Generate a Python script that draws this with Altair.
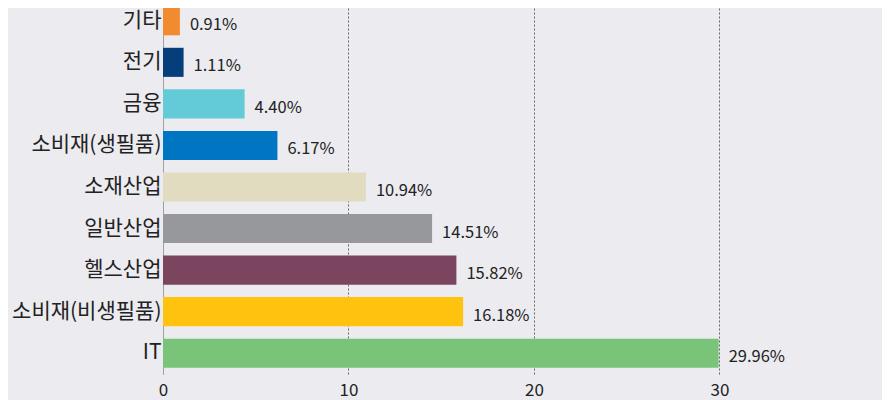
import altair as alt
import pandas as pd

categories = ["기타", "전기", "금융", "소비재(생필품)", "소재산업", "일반산업", "헬스산업", "소비재(비생필품)", "IT"]
values = [0.91, 1.11, 4.40, 6.17, 10.94, 14.51, 15.82, 16.18, 29.96]
colors = ["#F28A30", "#063E7B", "#63CBD8", "#0075C2", "#E1DCBF", "#97989C", "#7B445F", "#FFC20E", "#79C478"]
labels = [f"{v:.2f}%" for v in values]

df = pd.DataFrame({"cat": categories, "val": values, "label": labels, "color": colors})

FONT = "Noto Sans CJK KR"
BG = "#EBEBF0"

y = alt.Y("cat:N", sort=categories, title=None,
          scale=alt.Scale(paddingInner=0.3, paddingOuter=0.15),
          axis=alt.Axis(labelFont=FONT, labelFontSize=21, labelColor="#222222",
                        domainColor="#A0A0A0", ticks=False, labelPadding=2, labelLimit=300))
x = alt.X("val:Q", title=None,
          scale=alt.Scale(domain=[0, 39.2], nice=False, zero=True),
          axis=alt.Axis(values=[0, 10, 20, 30], labelFont=FONT, labelFontSize=17,
                        labelColor="#222222", domain=False, ticks=False, labelPadding=8,
                        grid=True, gridDash=[2, 2], gridColor="#666666", gridWidth=1,
                        labelFlush=False))

bars = alt.Chart(df).mark_bar().encode(
    x=x, y=y,
    color=alt.Color("color:N", scale=None, legend=None),
)

text = alt.Chart(df).mark_text(align="left", baseline="middle", dx=10, dy=4,
                               font=FONT, fontSize=16.5, color="#222222").encode(
    x="val:Q", y=alt.Y("cat:N", sort=categories), text="label:N"
)

chart = (bars + text).properties(
    width=727, height=374,
    background=BG,
    padding={"left": 155, "top": -8, "right": -8, "bottom": 30},
    autosize=alt.AutoSizeParams(type="none"),
).configure_view(stroke=None, fill=BG).configure_axisY(grid=False)

chart.save("out.html", embed_options={"renderer": "svg", "actions": False})
